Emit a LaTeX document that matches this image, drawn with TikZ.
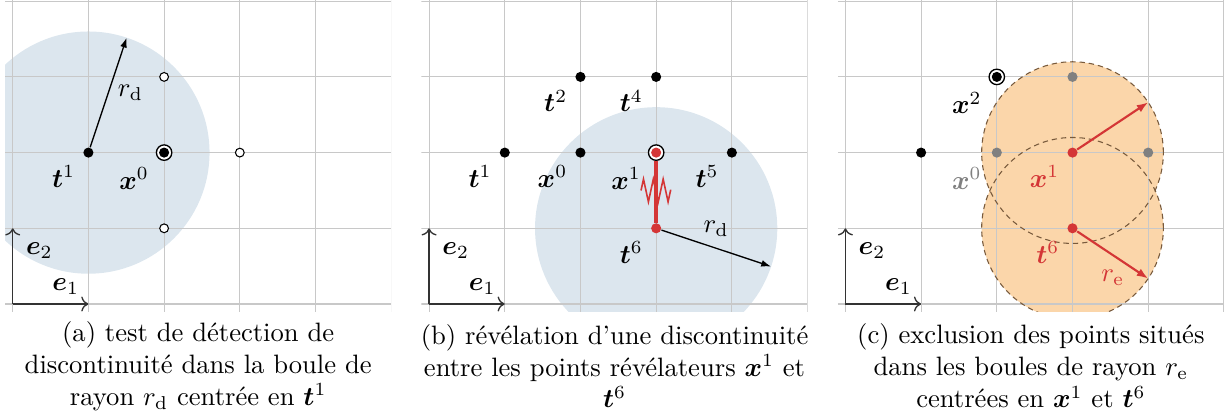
\documentclass[tikz,border=0pt]{standalone}
\usepackage{amsmath, amssymb}
\usepackage{bm}
\usetikzlibrary{arrows.meta, positioning, calc, decorations.pathmorphing}
\definecolor{boulebleu}{RGB}{220,230,238}
\definecolor{bouleorange}{RGB}{251,214,170}
\definecolor{rougedisc}{RGB}{212,54,54}
\definecolor{bordbrun}{RGB}{120,90,60}
\definecolor{grille}{RGB}{200,200,200}
\definecolor{grisexcl}{RGB}{128,128,128}
\tikzset{
    grillefond/.style={draw=grille, line width=0.4pt},
    axe/.style={->, draw=black!80, line width=0.5pt},
    pointplein/.style={circle, fill=black, inner sep=0pt, minimum size=3.8pt},
    pointrouge/.style={pointplein, fill=rougedisc},
    pointgris/.style={pointplein, fill=grisexcl},
    pointvide/.style={circle, draw=black, fill=white, inner sep=0pt, minimum size=3.3pt, line width=0.4pt},
    pointcercle/.style={circle, draw=black, fill=white, inner sep=0pt, minimum size=5.8pt, line width=0.5pt,
        path picture={\fill[#1] (path picture bounding box.center) circle (1.9pt);}},
    pointcercle/.default=black,
    etiq/.style={font=\normalsize, inner sep=3.3pt},
    rayon/.style={-{Latex[length=1.3mm, width=0.9mm]}, line width=0.5pt},
    rayonrouge/.style={-{Latex[length=1.5mm, width=1.1mm]}, draw=rougedisc, line width=0.8pt},
    bordexcl/.style={draw=bordbrun, dash pattern=on 2pt off 1.5pt, line width=0.4pt},
    legende/.style={align=center, font=\normalsize},
}

\begin{document}
\begin{tikzpicture}
    \useasboundingbox (-0.168,-1.493) rectangle (16.054,4.016);

    % (a) test de detection
    \begin{scope}
        \begin{scope}
            \clip (-0.1,-0.1) rectangle (5,4.05);
            \fill[boulebleu] (1,2) circle (1.6);
            \draw[grillefond] (-0.1,-0.1) grid (5,4.05);
        \end{scope}
        \coordinate (ao) at (0,0);
        \coordinate (ae1) at (1,0);
        \coordinate (ae2) at (0,1);
        \draw[axe] (ao) -- (ae1);
        \draw[axe] (ao) -- (ae2);
        \node[etiq, above left=0pt of ae1] (ae1lab) {$\bm{e}_1$};
        \node[etiq, below right=2pt and 1.5pt of ae2] (ae2lab) {$\bm{e}_2$};

        \node[pointvide] (an1) at (2,3) {};
        \node[pointvide] (an2) at (3,2) {};
        \node[pointvide] (an3) at (2,1) {};
        \node[pointplein] (at1) at (1,2) {};
        \node[pointcercle] (ax0) at (2,2) {};
        \coordinate (ard) at ($(at1)+(71.6:1.6)$);
        \draw[rayon] (at1) -- node[etiq, right] (ardlab) {$r_{\mathrm{d}}$} (ard);
        \node[etiq, below left=0pt of at1] (at1lab) {$\bm{t}^1$};
        \node[etiq, below left=0pt of ax0] (ax0lab) {$\bm{x}^0$};

        \node[legende] (lega) at (2.45,-0.82) {(a) test de détection de\\discontinuité dans la boule de\\rayon $r_{\mathrm{d}}$ centrée en $\bm{t}^1$};
    \end{scope}

    % (b) revelation
    \begin{scope}[xshift=5.5cm]
        \begin{scope}
            \clip (-0.1,-0.1) rectangle (5,4.05);
            \fill[boulebleu] (3,1) circle (1.6);
            \draw[grillefond] (-0.1,-0.1) grid (5,4.05);
        \end{scope}
        \coordinate (bo) at (0,0);
        \coordinate (be1) at (1,0);
        \coordinate (be2) at (0,1);
        \draw[axe] (bo) -- (be1);
        \draw[axe] (bo) -- (be2);
        \node[etiq, above left=0pt of be1] (be1lab) {$\bm{e}_1$};
        \node[etiq, below right=2pt and 1.5pt of be2] (be2lab) {$\bm{e}_2$};

        \node[pointplein] (bt1) at (1,2) {};
        \node[pointplein] (bx0) at (2,2) {};
        \node[pointplein] (bt2) at (2,3) {};
        \node[pointplein] (bt4) at (3,3) {};
        \node[pointplein] (bt5) at (4,2) {};
        \node[pointcercle=rougedisc] (bx1) at (3,2) {};
        \node[pointrouge] (bt6) at (3,1) {};
        \draw[rougedisc, line width=1.4pt] (bx1) -- (bt6);
        \coordinate (bzg) at (2.8,1.5);
        \coordinate (bzd) at (3.2,1.5);
        \draw[rougedisc, line width=0.6pt, decorate, decoration={zigzag, segment length=1.3mm, amplitude=1.5mm}] (bzg) -- (bzd);
        \coordinate (brd) at ($(bt6)+(-18.4:1.6)$);
        \draw[rayon] (bt6) -- node[etiq, above=1pt] (brdlab) {$r_{\mathrm{d}}$} (brd);

        \node[etiq, below left=0pt of bt1] (bt1lab) {$\bm{t}^1$};
        \node[etiq, below left=0pt of bx0] (bx0lab) {$\bm{x}^0$};
        \node[etiq, below left=0pt of bt2] (bt2lab) {$\bm{t}^2$};
        \node[etiq, below left=0pt of bt4] (bt4lab) {$\bm{t}^4$};
        \node[etiq, below left=0pt of bt5] (bt5lab) {$\bm{t}^5$};
        \node[etiq, below left=0pt of bx1] (bx1lab) {$\bm{x}^1$};
        \node[etiq, below left=0pt of bt6] (bt6lab) {$\bm{t}^6$};

        \node[legende] (legb) at (2.45,-0.82) {(b) révélation d’une discontinuité\\entre les points révélateurs $\bm{x}^1$ et\\$\bm{t}^6$};
    \end{scope}

    % (c) exclusion
    \begin{scope}[xshift=11cm]
        \begin{scope}
            \clip (-0.1,-0.1) rectangle (5,4.05);
            \fill[bouleorange] (3,2) circle (1.2) (3,1) circle (1.2);
            \draw[grillefond] (-0.1,-0.1) grid (5,4.05);
            \draw[bordexcl] (3,2) circle (1.2) (3,1) circle (1.2);
        \end{scope}
        \coordinate (co) at (0,0);
        \coordinate (ce1) at (1,0);
        \coordinate (ce2) at (0,1);
        \draw[axe] (co) -- (ce1);
        \draw[axe] (co) -- (ce2);
        \node[etiq, above left=0pt of ce1] (ce1lab) {$\bm{e}_1$};
        \node[etiq, below right=2pt and 1.5pt of ce2] (ce2lab) {$\bm{e}_2$};

        \node[pointplein] (ct1) at (1,2) {};
        \node[pointcercle] (cx2) at (2,3) {};
        \node[pointgris] (cx0) at (2,2) {};
        \node[pointgris] (ct4) at (3,3) {};
        \node[pointgris] (ct5) at (4,2) {};
        \node[pointrouge] (cx1) at (3,2) {};
        \node[pointrouge] (ct6) at (3,1) {};
        \coordinate (cre1) at ($(cx1)+(33.6:1.2)$);
        \coordinate (cre2) at ($(ct6)+(-33.6:1.2)$);
        \draw[rayonrouge] (cx1) -- (cre1);
        \draw[rayonrouge] (ct6) -- node[etiq, below=2pt, text=rougedisc] (crelab) {$r_{\mathrm{e}}$} (cre2);

        \node[etiq, below left=0pt of cx2] (cx2lab) {$\bm{x}^2$};
        \node[etiq, below left=1pt of cx0, text=grisexcl] (cx0lab) {$\bm{x}^0$};
        \node[etiq, below left=0pt of cx1, text=rougedisc] (cx1lab) {$\bm{x}^1$};
        \node[etiq, below left=0pt of ct6, text=rougedisc] (ct6lab) {$\bm{t}^6$};

        \node[legende] (legc) at (2.45,-0.82) {(c) exclusion des points situés\\dans les boules de rayon $r_{\mathrm{e}}$\\centrées en $\bm{x}^1$ et $\bm{t}^6$};
    \end{scope}
\end{tikzpicture}
\end{document}
